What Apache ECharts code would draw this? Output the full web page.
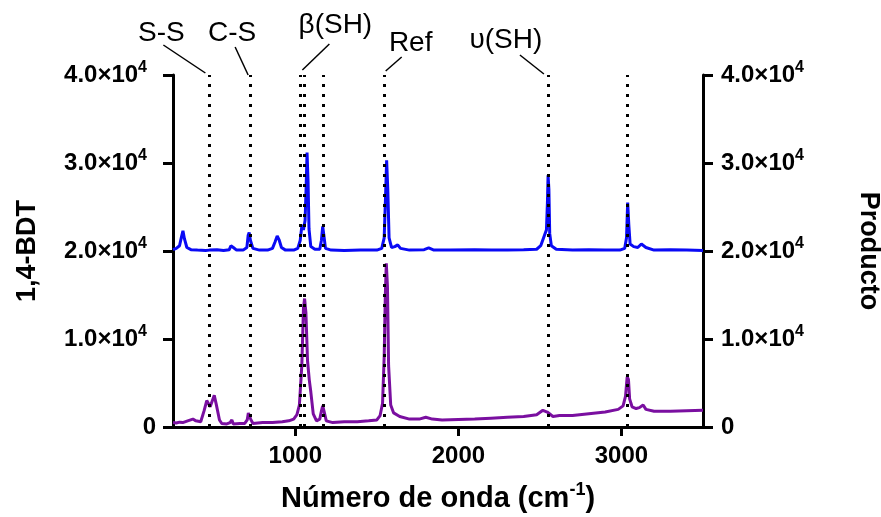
<!DOCTYPE html>
<html>
<head>
<meta charset="utf-8">
<script src="https://cdn.jsdelivr.net/npm/echarts@6/dist/echarts.min.js"></script>
<style>
  html, body { margin: 0; padding: 0; background: #fff; }
  #chart { width: 881px; height: 517px; }
</style>
</head>
<body>
<div id="chart"></div>
<script>
// [wavenumber (cm-1), intensity]
const bdtSpectrum = [
  [250, 20150], [270, 20300], [290, 20600], [302, 21600], [311, 22300], [320, 21400], [335, 20400],
  [360, 20150], [400, 20100], [450, 20050], [473, 20100], [520, 20150], [560, 20050], [595, 20150],
  [605, 20600], [612, 20800], [620, 20400], [640, 20100], [680, 20100], [703, 20400], [711, 21800],
  [717, 22100], [725, 21200], [740, 20300], [780, 20100], [830, 20100], [860, 20300], [875, 21000],
  [889, 21700], [900, 21300], [915, 20400], [940, 20100], [990, 20100], [1015, 20300], [1030, 21200],
  [1041, 23000], [1050, 22400], [1060, 23500], [1066, 27000], [1072, 31200], [1078, 28000],
  [1084, 22500], [1095, 20500], [1120, 20200], [1150, 20200], [1160, 21200], [1168, 22800],
  [1175, 21800], [1185, 20300], [1220, 20100], [1300, 20050], [1400, 20100], [1500, 20100],
  [1530, 20300], [1545, 21500], [1553, 26000], [1560, 30300], [1567, 27000], [1575, 21500],
  [1590, 20400], [1610, 20500], [1628, 20700], [1645, 20300], [1700, 20100], [1790, 20150],
  [1818, 20350], [1850, 20100], [1950, 20100], [2100, 20150], [2200, 20100], [2300, 20100],
  [2400, 20150], [2480, 20200], [2505, 20600], [2528, 21800], [2540, 22400], [2546, 25500],
  [2550, 28600], [2555, 27000], [2560, 22000], [2570, 20600], [2600, 20200], [2700, 20100],
  [2800, 20150], [2900, 20100], [2990, 20100], [3020, 20300], [3031, 21500], [3038, 25500],
  [3045, 23000], [3053, 20800], [3075, 20500], [3100, 20400], [3122, 20800], [3133, 20900],
  [3150, 20400], [3200, 20100], [3300, 20150], [3400, 20100], [3500, 20050]
];

const productSpectrum = [
  [250, 500], [270, 450], [290, 550], [310, 500], [340, 700], [372, 900], [390, 700], [420, 600],
  [440, 1800], [457, 3000], [478, 2300], [490, 2500], [503, 3600], [515, 2600], [535, 800],
  [549, 400], [580, 350], [600, 500], [611, 800], [620, 350], [660, 400], [690, 400], [705, 800],
  [712, 1600], [719, 1800], [726, 900], [740, 400], [800, 500], [860, 500], [920, 600], [960, 700],
  [990, 900], [1010, 1400], [1025, 2500], [1040, 7000], [1050, 13500], [1057, 14600], [1065, 13000],
  [1075, 7500], [1086, 5300], [1095, 4000], [1110, 1500], [1130, 700], [1150, 900], [1160, 1800],
  [1168, 2400], [1176, 1800], [1190, 700], [1230, 500], [1300, 600], [1380, 600], [1450, 700],
  [1500, 800], [1520, 1300], [1535, 2700], [1545, 8000], [1552, 15000], [1558, 18600],
  [1565, 16000], [1572, 7000], [1585, 2500], [1603, 1600], [1640, 1200], [1700, 900], [1760, 900],
  [1800, 1100], [1840, 900], [1900, 800], [2000, 850], [2100, 900], [2200, 1000], [2300, 1100],
  [2400, 1200], [2480, 1400], [2518, 1900], [2545, 1700], [2580, 1200], [2620, 1300], [2700, 1300],
  [2800, 1500], [2900, 1700], [2980, 2000], [3010, 2400], [3025, 3500], [3035, 5700], [3043, 5400],
  [3050, 3200], [3065, 2300], [3090, 2100], [3110, 2200], [3133, 2500], [3150, 2000], [3200, 1800],
  [3300, 1800], [3400, 1850], [3500, 1900]
];

const bandPositions = [473, 723, 1031, 1055, 1170, 1548, 2549, 3037];
const xTicks = [1000, 2000, 3000];
const annotationLabels = ['S-S', 'C-S', 'β(SH)', 'Ref', 'υ(SH)'];
const annotationBands = [473, 723, 1031, 1548, 2549];

// leader line + label placement, relative to the top of each dotted line:
// [x1, y1, x2, y2, textX, textY]
const annotationLayout = [
  [-4, -2, -46, -30, -48, -42],
  [-2, 0, -15, -28, -18, -42],
  [2, -5, 29, -31, 35, -50],
  [1, -4, 17, -18, 26, -32],
  [-4, -1, -28, -20, -42, -35]
];

const FONT = '"Liberation Sans", Arial, sans-serif';

const tickRich = {
  b: { fontSize: 24, fontWeight: 'bold', color: '#000', fontFamily: FONT, lineHeight: 26 },
  z: { fontSize: 24, fontWeight: 'bold', color: '#000', fontFamily: FONT, lineHeight: 26, padding: [0, -9, 0, 0] },
  sup: { fontSize: 16, fontWeight: 'bold', color: '#000', fontFamily: FONT, lineHeight: 12, padding: [0, 0, 14, 0] }
};

function sciLabel(v) {
  if (v === 0) return '{z|0}';
  return '{b|' + (v / 10000).toFixed(1) + '×10}{sup|4}';
}

function yAxis(position, name, nameGap, nameRotate, margin) {
  return {
    type: 'value',
    position: position,
    min: 0,
    max: 40000,
    interval: 10000,
    name: name,
    nameLocation: 'middle',
    nameGap: nameGap,
    nameRotate: nameRotate,
    nameTextStyle: { fontSize: 27, fontWeight: 'bold', color: '#000', fontFamily: FONT },
    splitLine: { show: false },
    axisLine: { show: true, lineStyle: { color: '#000', width: 3 } },
    axisTick: { show: true, length: 10, lineStyle: { color: '#000', width: 3 } },
    axisLabel: { margin: margin, formatter: sciLabel, rich: tickRich }
  };
}

const chart = echarts.init(document.getElementById('chart'), null, { renderer: 'canvas' });

chart.setOption({
  animation: false,
  backgroundColor: '#fff',
  grid: { left: 173, right: 178, top: 75, bottom: 90, outerBoundsMode: 'none' },
  xAxis: {
    type: 'value',
    min: 250,
    max: 3500,
    name: '{b|Número de onda (cm}{sup|-1}{b|)}',
    nameLocation: 'middle',
    nameGap: 56,
    nameTextStyle: {
      rich: {
        b: { fontSize: 29, fontWeight: 'bold', color: '#000', fontFamily: FONT, lineHeight: 32 },
        sup: { fontSize: 18, fontWeight: 'bold', color: '#000', fontFamily: FONT, lineHeight: 14, padding: [0, 0, 18, 0] }
      }
    },
    splitLine: { show: false },
    axisLine: { show: true, lineStyle: { color: '#000', width: 3 } },
    axisTick: { show: true, length: 9, customValues: xTicks, lineStyle: { color: '#000', width: 3 } },
    axisLabel: {
      customValues: xTicks,
      margin: 17,
      fontSize: 24,
      fontWeight: 'bold',
      color: '#000',
      fontFamily: FONT,
      formatter: function (v) { return String(v); }
    }
  },
  yAxis: [
    yAxis('left', '1,4-BDT', 132, 90, 26),
    yAxis('right', 'Producto', 152, -90, 18)
  ],
  series: [
    {
      name: '1,4-BDT',
      type: 'line',
      yAxisIndex: 0,
      data: bdtSpectrum,
      showSymbol: false,
      lineStyle: { color: '#0a0af5', width: 3 },
      z: 3,
      markLine: {
        silent: true,
        symbol: 'none',
        label: { show: false },
        lineStyle: { color: '#000', width: 3, type: [3, 7], cap: 'butt' },
        data: bandPositions.map(function (b) { return { xAxis: b }; })
      }
    },
    {
      name: 'Producto',
      type: 'line',
      yAxisIndex: 1,
      data: productSpectrum,
      showSymbol: false,
      lineStyle: { color: '#7a0fa0', width: 3 },
      z: 3
    }
  ]
});

// band annotations above the plot, anchored to the dotted lines
const topY = chart.convertToPixel({ yAxisIndex: 0 }, 40000);
const graphics = [];
annotationBands.forEach(function (band, i) {
  const x = chart.convertToPixel({ xAxisIndex: 0 }, band);
  const l = annotationLayout[i];
  graphics.push({
    type: 'line',
    shape: { x1: x + l[0], y1: topY + l[1], x2: x + l[2], y2: topY + l[3] },
    style: { stroke: '#000', lineWidth: 1.5 }
  });
  graphics.push({
    type: 'text',
    x: x + l[4],
    y: topY + l[5],
    style: {
      text: annotationLabels[i],
      fontSize: 28,
      fontFamily: FONT,
      fill: '#000',
      align: 'center',
      verticalAlign: 'middle'
    }
  });
});
chart.setOption({ graphic: graphics });
</script>
</body>
</html>
